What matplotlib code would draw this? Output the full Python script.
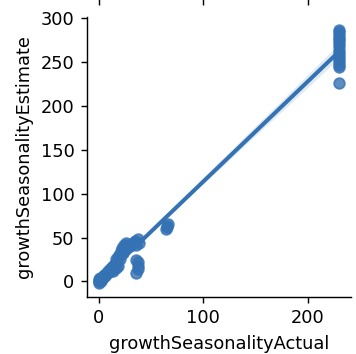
import matplotlib
matplotlib.use("Agg")
import matplotlib.pyplot as plt
import seaborn as sns
import numpy as np

actual = [0, 0, 0, 1, 0, 2, 1, 3, 4, 5, 6, 7, 8, 9, 10, 11, 12, 13, 14, 14,
          15, 16, 16, 17, 18, 18, 19, 20, 21, 22, 23, 24, 25, 26, 28, 30, 33,
          35, 36, 37, 38, 36, 37, 37, 37, 36, 64, 65, 66, 65,
          230, 230, 230, 230, 230, 230, 230, 230, 230, 230, 230, 230, 230, 230, 230]
estimate = [-2, 0, 1, 2, 3, 1, 4, 3, 5, 7, 6, 9, 10, 12, 11, 14, 13, 16, 18, 12,
            20, 15, 25, 22, 28, 18, 30, 26, 35, 38, 32, 42, 40, 44, 42, 40, 44,
            46, 42, 48, 44, 10, 14, 18, 22, 24, 60, 63, 66, 62,
            287, 284, 281, 278, 275, 272, 268, 264, 260, 257, 254, 250, 247, 245, 226]

xticks = [0, 100, 200]
yticks = [0, 50, 100, 150, 200, 250, 300]

DPI = 128
fig = plt.figure(figsize=(356 / DPI, 354 / DPI), dpi=DPI)
ax = fig.add_axes([0.244, 0.161, 0.742, 0.791])
sns.regplot(x=np.array(actual), y=np.array(estimate), ax=ax, color="#3472b4")
ax.set_xticks(xticks)
ax.set_yticks(yticks)
ax.set_xlabel("growthSeasonalityActual")
ax.set_ylabel("growthSeasonalityEstimate")
sns.despine(ax=ax)

# bottom tick marks of a facet above, cut off by the figure edge
ax_top = fig.add_axes([0.244, 1.004, 0.742, 0.1])
ax_top.set_xlim(ax.get_xlim())
ax_top.set_xticks(xticks)
ax_top.set_xticklabels([])
ax_top.set_yticks([])
for s in ax_top.spines.values():
    s.set_visible(False)

fig.savefig("out.png", dpi=DPI)
